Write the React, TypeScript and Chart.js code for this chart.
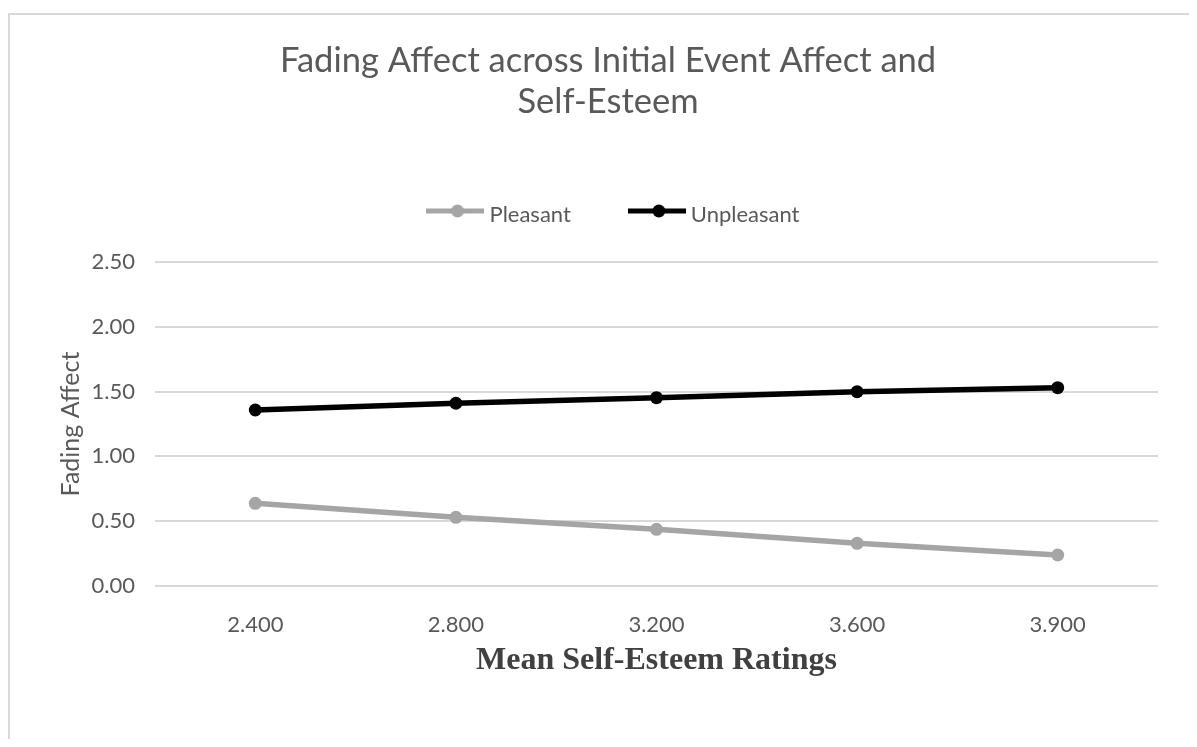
import React, { useEffect, useRef } from 'react';
import { Chart, registerables } from 'chart.js';

Chart.register(...registerables);

// ---- data ----
const categories = ['2.400', '2.800', '3.200', '3.600', '3.900'];
const pleasantValues = [0.638, 0.53, 0.437, 0.329, 0.239];
const unpleasantValues = [1.358, 1.41, 1.453, 1.499, 1.53];
const seriesNames = ['Pleasant', 'Unpleasant'];
const titleLines = ['Fading Affect across Initial Event Affect and', 'Self-Esteem'];
const yAxisTitle = 'Fading Affect';
const xAxisTitle = 'Mean Self-Esteem Ratings';
const yMin = 0;
const yMax = 2.5;
const yStep = 0.5;

// ---- layout / style ----
const W = 1181;
const H = 731;
const TEXT = '#595959';
const GRID = '#d9d9d9';
const GRAY = '#a5a5a5';
const BLACK = '#000000';
const SANS = 'Lato, "Open Sans", sans-serif';
const LEGEND_H = 121;
const LEGEND_SHIFT = 8;

function makeMarker(color: string): HTMLCanvasElement {
  const c = document.createElement('canvas');
  c.width = 58;
  c.height = 24;
  const g = c.getContext('2d')!;
  g.strokeStyle = color;
  g.lineWidth = 5;
  g.lineCap = 'butt';
  g.beginPath();
  g.moveTo(0, 8);
  g.lineTo(58, 8);
  g.stroke();
  g.fillStyle = color;
  g.beginPath();
  g.arc(31, 8, 6.5, 0, Math.PI * 2);
  g.fill();
  return c;
}

const borderPlugin = {
  id: 'outerBorder',
  beforeDraw(chart: any) {
    const ctx = chart.ctx;
    ctx.save();
    ctx.fillStyle = GRID;
    ctx.fillRect(0, 5, chart.width, 2);
    ctx.fillRect(0, 5, 2, chart.height);
    ctx.restore();
  },
};

const legendPatch = {
  id: 'legendPatch',
  beforeLayout(chart: any) {
    const lg = chart.legend;
    if (!lg || lg.__patched) return;
    lg.__patched = true;
    const origFit = lg.fit.bind(lg);
    lg.fit = function () {
      origFit();
      this.height = LEGEND_H;
    };
    const origDraw = lg.draw.bind(lg);
    lg.draw = function (area: any) {
      const ctx = chart.ctx;
      ctx.save();
      ctx.translate(LEGEND_SHIFT, 0);
      origDraw(area);
      ctx.restore();
    };
  },
};

export default function App() {
  const ref = useRef<HTMLCanvasElement>(null);

  useEffect(() => {
    const canvas = ref.current;
    if (!canvas) return;
    const markers = [makeMarker(GRAY), makeMarker(BLACK)];

    const chart = new Chart(canvas, {
      type: 'line',
      data: {
        labels: categories,
        datasets: [
          {
            label: seriesNames[0],
            data: pleasantValues,
            borderColor: GRAY,
            backgroundColor: GRAY,
            pointBackgroundColor: GRAY,
            pointBorderColor: GRAY,
            borderWidth: 5.5,
            pointRadius: 6.5,
            pointBorderWidth: 0,
            tension: 0,
            yAxisID: 'y',
          },
          {
            label: seriesNames[1],
            data: unpleasantValues,
            borderColor: BLACK,
            backgroundColor: BLACK,
            pointBackgroundColor: BLACK,
            pointBorderColor: BLACK,
            borderWidth: 5.5,
            pointRadius: 6.5,
            pointBorderWidth: 0,
            tension: 0,
            yAxisID: 'y',
          },
        ],
      },
      options: {
        responsive: false,
        animation: false,
        layout: { padding: { left: 19, right: 0, top: 0, bottom: 0 } },
        plugins: {
          tooltip: { enabled: false },
          title: {
            display: true,
            text: titleLines,
            color: TEXT,
            font: { family: SANS, size: 34.5, weight: 'normal', lineHeight: 40.5 / 34.5 },
            padding: { top: 32.75, bottom: 19.25 },
          },
          legend: {
            display: true,
            position: 'top',
            labels: {
              color: TEXT,
              font: { family: SANS, size: 22 },
              usePointStyle: true,
              pointStyleWidth: 46,
              padding: 63,
              generateLabels: (c: any) => {
                const items = Chart.defaults.plugins.legend.labels.generateLabels(c);
                return items.map((it: any, i: number) => ({ ...it, pointStyle: markers[i], fontColor: TEXT }));
              },
            },
          },
        },
        scales: {
          x: {
            type: 'category',
            offset: true,
            grid: { display: false },
            border: { display: false },
            ticks: {
              color: TEXT,
              font: { family: SANS, size: 22 },
              padding: 18,
              maxRotation: 0,
              autoSkip: false,
            },
            title: {
              display: true,
              text: xAxisTitle,
              color: '#404040',
              font: { family: '"Liberation Serif", "Times New Roman", serif', size: 32, weight: 'bold', lineHeight: 1.2 },
              padding: { top: 0, bottom: 58.8 },
            },
            afterFit: (s: any) => {
              s.height = 153;
            },
          },
          y: {
            type: 'linear',
            position: 'left',
            min: yMin,
            max: yMax,
            grid: { color: GRID, lineWidth: 2, drawTicks: false },
            border: { display: false },
            ticks: {
              stepSize: yStep,
              color: TEXT,
              font: { family: SANS, size: 22 },
              padding: 20,
              callback: (v: any) => Number(v).toFixed(2),
            },
            title: {
              display: true,
              text: yAxisTitle,
              color: TEXT,
              font: { family: SANS, size: 25, lineHeight: 1.2 },
              padding: { top: 29, bottom: 0 },
            },
            afterFit: (s: any) => {
              s.width = 128;
            },
          },
          yRight: {
            type: 'linear',
            position: 'right',
            display: true,
            grid: { display: false },
            border: { display: false },
            ticks: { display: false },
            afterFit: (s: any) => {
              s.width = 31;
            },
          },
        },
      } as any,
      plugins: [borderPlugin, legendPatch],
    });

    return () => chart.destroy();
  }, []);

  return (
    <div style={{ width: W, height: H }}>
      <canvas ref={ref} width={W} height={H} style={{ display: 'block', width: W, height: H }} />
    </div>
  );
}
